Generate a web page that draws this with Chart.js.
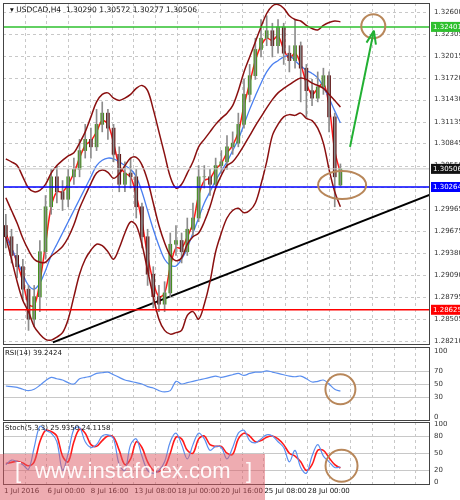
<!DOCTYPE html>
<html>
<head>
<meta charset="utf-8">
<script src="https://cdn.jsdelivr.net/npm/chart.js@4.4.1/dist/chart.umd.min.js"></script>
<style>
  body { margin:0; background:#fff; font-family:"DejaVu Sans", sans-serif; }
  .panel { position:absolute; left:0; width:460px; }
  #wm { position:absolute; left:0; top:454px; width:265px; height:46px; background:rgba(222,90,100,0.5);
        color:rgba(255,255,255,0.95); font:22px "Liberation Sans", sans-serif; line-height:34px; white-space:nowrap; overflow:hidden; }
  #wm span { position:absolute; top:0; }
</style>
</head>
<body>
<div class="panel" style="top:0;height:347px"><canvas id="main"></canvas></div>
<div class="panel" style="top:347px;height:74px"><canvas id="rsi"></canvas></div>
<div class="panel" style="top:421px;height:79px"><canvas id="stoch"></canvas></div>
<div id="wm"><span style="left:15px">[</span><span style="left:35px">www.instaforex.com</span><span style="left:246px">]</span></div>
<script>
// price data (H4 candles, simplified)
var opens = [1.2975,1.2960,1.2935,1.2920,1.2890,1.2850,1.2880,1.2940,1.3000,1.3040,
1.3020,1.3010,1.3040,1.3050,1.3075,1.3090,1.3080,1.3110,1.3125,1.3105,
1.3070,1.3030,1.3045,1.3040,1.3000,1.2960,1.2910,1.2880,1.2870,1.2885,
1.2950,1.2955,1.2940,1.2970,1.2985,1.3040,1.3040,1.3030,1.3055,1.3060,
1.3080,1.3085,1.3110,1.3150,1.3175,1.3210,1.3225,1.3235,1.3215,1.3240,
1.3205,1.3195,1.3215,1.3185,1.3155,1.3145,1.3160,1.3175,1.3120,1.30290];
var closes = [1.2960,1.2935,1.2920,1.2890,1.2850,1.2880,1.2940,1.3000,1.3040,1.3020,
1.3010,1.3040,1.3050,1.3075,1.3090,1.3080,1.3110,1.3125,1.3105,1.3070,
1.3030,1.3045,1.3040,1.3000,1.2960,1.2910,1.2880,1.2870,1.2885,1.2950,
1.2955,1.2940,1.2970,1.2985,1.3040,1.3040,1.3030,1.3055,1.3060,1.3080,
1.3085,1.3110,1.3150,1.3175,1.3210,1.3225,1.3235,1.3215,1.3240,1.3205,
1.3195,1.3215,1.3185,1.3155,1.3145,1.3160,1.3175,1.3120,1.3040,1.30506];
var highs = [1.2990,1.2970,1.2950,1.2930,1.2895,1.2895,1.2955,1.3015,1.3050,1.3055,
1.3035,1.3050,1.3065,1.3090,1.3110,1.3105,1.3130,1.3140,1.3130,1.3110,
1.3080,1.3060,1.3065,1.3050,1.3005,1.2970,1.2920,1.2895,1.2900,1.2965,
1.2975,1.2965,1.2985,1.3005,1.3055,1.3055,1.3050,1.3065,1.3075,1.3095,
1.3100,1.3125,1.3170,1.3190,1.3225,1.3250,1.3255,1.3245,1.3250,1.3245,
1.3215,1.3250,1.3220,1.3190,1.3170,1.3180,1.3185,1.3180,1.3125,1.30572];
var lows = [1.2945,1.2925,1.2905,1.2875,1.2835,1.2840,1.2860,1.2930,1.2990,1.3005,
1.2995,1.3000,1.3030,1.3040,1.3065,1.3065,1.3075,1.3100,1.3090,1.3060,
1.3020,1.3020,1.3025,1.2985,1.2945,1.2895,1.2865,1.2860,1.2860,1.2880,
1.2935,1.2925,1.2935,1.2960,1.2980,1.3025,1.3015,1.3025,1.3045,1.3050,
1.3070,1.3080,1.3105,1.3140,1.3170,1.3200,1.3215,1.3200,1.3205,1.3190,
1.3180,1.3185,1.3140,1.3120,1.3135,1.3140,1.3150,1.3100,1.3000,1.30277];
var bandUpper = [1.3064,1.3060,1.3055,1.3040,1.3025,1.3020,1.3022,1.3030,1.3045,1.3055,
1.3062,1.3068,1.3072,1.3085,1.3100,1.3120,1.3140,1.3150,1.3152,1.3145,
1.3142,1.3145,1.3150,1.3158,1.3162,1.3155,1.3130,1.3100,1.3070,1.3040,
1.3025,1.3030,1.3045,1.3060,1.3080,1.3090,1.3100,1.3110,1.3118,1.3125,
1.3135,1.3155,1.3180,1.3200,1.3220,1.3240,1.3258,1.3268,1.3270,1.3265,
1.3255,1.3250,1.3248,1.3242,1.3238,1.3236,1.3242,1.3246,1.3248,1.3247];
var bandLower = [1.2960,1.2930,1.2900,1.2875,1.2860,1.2840,1.2830,1.2823,1.2822,1.2826,
1.2832,1.2850,1.2880,1.2910,1.2930,1.2942,1.2950,1.2948,1.2940,1.2930,
1.2945,1.2965,1.2980,1.2975,1.2950,1.2915,1.2880,1.2850,1.2835,1.2830,
1.2832,1.2835,1.2855,1.2860,1.2850,1.2870,1.2900,1.2940,1.2965,1.2985,
1.2995,1.2998,1.2992,1.2995,1.3005,1.3030,1.3060,1.3095,1.3110,1.3120,
1.3123,1.3122,1.3125,1.3118,1.3115,1.3105,1.3085,1.3050,1.3020,1.3000];
var bandMid = [1.3012,1.2995,1.2978,1.2958,1.2942,1.2930,1.2926,1.2926,1.2934,1.2940,
1.2947,1.2959,1.2976,1.2998,1.3015,1.3031,1.3045,1.3049,1.3046,1.3038,
1.3044,1.3055,1.3065,1.3066,1.3056,1.3035,1.3005,1.2975,1.2952,1.2935,
1.2928,1.2932,1.2950,1.2960,1.2965,1.2980,1.3000,1.3025,1.3042,1.3055,
1.3060,1.3070,1.3082,1.3095,1.3108,1.3120,1.3132,1.3143,1.3152,1.3158,
1.3163,1.3168,1.3172,1.3170,1.3165,1.3162,1.3158,1.3150,1.3142,1.3133];
var maSlow = [1.2960,1.2945,1.2928,1.2910,1.2895,1.2890,1.2898,1.2915,1.2935,1.2950,
1.2965,1.2980,1.2995,1.3010,1.3025,1.3040,1.3055,1.3062,1.3065,1.3064,
1.3060,1.3055,1.3050,1.3040,1.3020,1.2995,1.2970,1.2948,1.2930,1.2922,
1.2921,1.2930,1.2945,1.2965,1.2985,1.3005,1.3020,1.3035,1.3048,1.3060,
1.3075,1.3090,1.3110,1.3130,1.3148,1.3165,1.3180,1.3190,1.3195,1.3200,
1.3202,1.3195,1.3188,1.3182,1.3178,1.3172,1.3160,1.3145,1.3128,1.3112];
var maFast = [1.2965,1.2945,1.2925,1.2900,1.2870,1.2868,1.2900,1.2950,1.3000,1.3020,
1.3020,1.3030,1.3045,1.3065,1.3082,1.3088,1.3100,1.3115,1.3110,1.3085,
1.3055,1.3045,1.3040,1.3015,1.2980,1.2935,1.2900,1.2880,1.2885,1.2920,
1.2945,1.2945,1.2960,1.2978,1.3015,1.3035,1.3038,1.3050,1.3058,1.3072,
1.3082,1.3100,1.3135,1.3165,1.3195,1.3215,1.3225,1.3222,1.3228,1.3210,
1.3198,1.3205,1.3190,1.3165,1.3150,1.3158,1.3165,1.3135,1.3075,1.3045];
var rsi = [47,46,45,42,40,42,48,55,60,58,
56,52,50,58,60,62,66,67,68,64,
60,56,54,52,50,46,44,40,38,40,
54,50,52,54,56,58,60,62,60,62,
64,66,63,66,68,68,70,68,66,64,
62,61,62,58,53,54,56,50,42,39.24];
var stochK = [30,38,35,30,22,60,97,90,85,70,
20,50,92,95,70,60,65,80,82,75,
30,20,65,75,45,20,15,20,35,70,
85,65,40,65,85,75,55,62,60,40,
60,85,90,72,68,75,82,80,70,60,
35,55,25,15,45,65,45,35,25,25.94];
var stochD = [32,34,36,33,28,35,70,90,88,80,
45,35,70,92,85,65,62,72,80,78,
55,30,40,70,60,35,20,18,25,50,
78,75,55,50,75,80,65,62,62,50,
48,75,85,80,70,72,78,80,75,65,
50,45,35,20,30,55,55,42,30,24.12];
var priceTicks = [1.32600,1.32305,1.32015,1.31720,1.31430,1.31135,1.30845,1.30550,1.30260,1.29965,1.29675,1.29380,1.29090,1.28795,1.28505,1.28210];
var rsiTicks = [100, 70, 50, 30, 0];
var stochTicks = [100, 80, 50, 20, 0];
var timeLabels = ['1 Jul 2016','6 Jul 00:00','8 Jul 16:00','13 Jul 08:00','18 Jul 00:00','20 Jul 16:00','25 Jul 08:00','28 Jul 00:00'];
var levelResist = 1.32401, levelSupport = 1.30264, levelLow = 1.28625, lastPrice = 1.30506;
var trendFrom = [8.3, 1.2819], trendTo = [74.8, 1.3016];

var XMIN = -0.5, XMAX = 74.8, GRIDSTEP = 3.827;
var FONT = '"DejaVu Sans", sans-serif';

function pts(arr) { return arr.map(function (v, i) { return { x: i, y: v }; }); }

function gridPlugin(hLines, dashed, tickVals, digits) {
    return {
        id: 'grid',
        beforeDatasetsDraw: function (chart) {
            var c = chart.ctx, a = chart.chartArea, xs = chart.scales.x, ys = chart.scales.y;
            c.save();
            c.strokeStyle = '#c8c8c8'; c.lineWidth = 1; c.setLineDash([3, 3]);
            for (var k = 1; k < 20; k++) {
                var px = Math.round(xs.getPixelForValue(XMIN + GRIDSTEP * k)) + 0.5;
                if (px >= a.right) break;
                c.beginPath(); c.moveTo(px, a.top); c.lineTo(px, a.bottom); c.stroke();
            }
            if (!dashed) c.setLineDash([]);
            hLines.forEach(function (v) {
                var py = Math.round(ys.getPixelForValue(v)) + 0.5;
                c.beginPath(); c.moveTo(a.left, py); c.lineTo(a.right, py); c.stroke();
            });
            c.restore();
        },
        afterDraw: function (chart) {
            var c = chart.ctx, a = chart.chartArea, ys = chart.scales.y;
            c.save(); c.strokeStyle = '#444'; c.lineWidth = 1;
            c.strokeRect(a.left + 0.5, a.top + 0.5, a.right - a.left - 1, a.bottom - a.top - 1);
            c.fillStyle = '#333'; c.font = '7px ' + FONT; c.textBaseline = 'middle';
            tickVals.forEach(function (v) {
                c.fillText(v.toFixed(digits), a.right + 4, ys.getPixelForValue(v));
            });
            c.restore();
        }
    };
}

function baseX() {
    return { type: 'linear', min: XMIN, max: XMAX, display: false, offset: false };
}
function baseY(min, max) {
    return { position: 'right', min: min, max: max, display: false };
}
function line(data, color, w) {
    return { type: 'line', data: pts(data), borderColor: color, borderWidth: w, pointRadius: 0, tension: 0.35 };
}
var PAD = { left: 3, right: 30 };

// main price chart
var candleBody = closes.map(function (c, i) { return { x: i, y: [opens[i], c] }; });
var candleWick = closes.map(function (c, i) { return { x: i, y: [lows[i], highs[i]] }; });
var bodyColors = closes.map(function (c, i) { return c >= opens[i] ? '#3f8f16' : '#5c1212'; });

var mainPlugin = {
    id: 'mainDeco',
    afterDatasetsDraw: function (chart) {
        var c = chart.ctx, a = chart.chartArea, xs = chart.scales.x, ys = chart.scales.y;
        c.save();
        function hline(v, col, w) {
            var py = ys.getPixelForValue(v);
            c.strokeStyle = col; c.lineWidth = w;
            c.beginPath(); c.moveTo(a.left, py); c.lineTo(a.right, py); c.stroke();
        }
        hline(lastPrice, '#c8c8c8', 1);
        hline(levelResist, '#2ec02e', 1.5);
        hline(levelSupport, '#0000ff', 1.5);
        hline(levelLow, '#ff0000', 1.5);
        function X(v) { return xs.getPixelForValue(v); }
        function Y(v) { return ys.getPixelForValue(v); }
        c.strokeStyle = '#b8875a'; c.lineWidth = 2;
        c.beginPath(); c.ellipse(X(64.8), Y(1.32410), 12, 12, 0, 0, Math.PI * 2); c.stroke();
        c.beginPath(); c.ellipse(X(59.3), Y(1.30290), 24, 14, 0, 0, Math.PI * 2); c.stroke();
        var x1 = X(60.7), y1 = Y(1.30800), x2 = X(64.9), y2 = Y(1.32350);
        c.strokeStyle = '#22b033'; c.lineWidth = 2;
        c.beginPath(); c.moveTo(x1, y1); c.lineTo(x2, y2); c.stroke();
        var ang = Math.atan2(y2 - y1, x2 - x1);
        [0.35, -0.35].forEach(function (d) {
            c.beginPath(); c.moveTo(x2, y2);
            c.lineTo(x2 - 14 * Math.cos(ang + d), y2 - 14 * Math.sin(ang + d)); c.stroke();
        });
        c.restore();
    },
    afterDraw: function (chart) {
        var c = chart.ctx, a = chart.chartArea, ys = chart.scales.y;
        c.save();
        c.font = '7px ' + FONT; c.textBaseline = 'middle';
        [[lastPrice, '#111'], [levelResist, '#2ec02e'], [levelSupport, '#0000ff'], [levelLow, '#ff0000']]
            .forEach(function (b) {
                var py = ys.getPixelForValue(b[0]);
                c.fillStyle = b[1]; c.fillRect(a.right + 1, py - 5, 29, 10);
                c.fillStyle = '#fff'; c.fillText(b[0].toFixed(5), a.right + 3, py);
            });
        c.fillStyle = '#111'; c.font = '7.5px ' + FONT; c.textBaseline = 'top';
        c.fillText('\u25BE USDCAD,H4  1.30290 1.30572 1.30277 1.30506', a.left + 7, a.top + 3);
        c.restore();
    }
};

new Chart(document.getElementById('main'), {
    data: {
        datasets: [
            line(bandUpper, '#8a1010', 1.5),
            line(bandLower, '#8a1010', 1.5),
            line(bandMid, '#8a1010', 1.5),
            { type: 'bar', data: candleWick, backgroundColor: '#8c8c8c', barThickness: 1, grouped: false },
            { type: 'bar', data: candleBody, backgroundColor: bodyColors, barThickness: 3, grouped: false },
            line(maSlow, '#4a7ff0', 1.3),
            line(maFast, '#ff1a1a', 1.5),
            { type: 'line', data: [{ x: trendFrom[0], y: trendFrom[1] }, { x: trendTo[0], y: trendTo[1] }],
              borderColor: '#000', borderWidth: 2, pointRadius: 0 }
        ]
    },
    options: {
        responsive: true, maintainAspectRatio: false, animation: false,
        layout: { padding: { left: PAD.left, top: 3, right: PAD.right, bottom: 2 } },
        plugins: { legend: { display: false }, tooltip: { enabled: false } },
        scales: { x: baseX(), y: baseY(1.28155, 1.32720) }
    },
    plugins: [gridPlugin(priceTicks, true, priceTicks, 5), mainPlugin]
});

function labelPlugin(text) {
    return {
        id: 'lbl',
        afterDraw: function (chart) {
            var c = chart.ctx, a = chart.chartArea;
            c.save(); c.fillStyle = '#111'; c.font = '7px ' + FONT; c.textBaseline = 'top';
            c.fillText(text, a.left + 2, a.top + 3); c.restore();
        }
    };
}
function circlePlugin(xv, yv, r) {
    return {
        id: 'circ',
        afterDatasetsDraw: function (chart) {
            var c = chart.ctx;
            c.save(); c.strokeStyle = '#b8875a'; c.lineWidth = 2;
            c.beginPath(); c.arc(chart.scales.x.getPixelForValue(xv), chart.scales.y.getPixelForValue(yv), r, 0, Math.PI * 2);
            c.stroke(); c.restore();
        }
    };
}

// RSI panel
new Chart(document.getElementById('rsi'), {
    data: { datasets: [line(rsi, '#5b8fef', 1.2)] },
    options: {
        responsive: true, maintainAspectRatio: false, animation: false,
        layout: { padding: { left: PAD.left, top: 0, right: PAD.right, bottom: 0 } },
        plugins: { legend: { display: false }, tooltip: { enabled: false } },
        scales: { x: baseX(), y: baseY(-6, 106) }
    },
    plugins: [gridPlugin([70, 50, 30], false, rsiTicks, 0), labelPlugin('RSI(14) 39.2424'), circlePlugin(59.0, 42, 15)]
});

// Stochastic panel with time axis
var timePlugin = {
    id: 'time',
    afterDraw: function (chart) {
        var c = chart.ctx, a = chart.chartArea, xs = chart.scales.x;
        c.save(); c.fillStyle = '#111'; c.font = '7px ' + FONT; c.textBaseline = 'top';
        timeLabels.forEach(function (t, k) {
            c.fillText(t, xs.getPixelForValue(XMIN + GRIDSTEP * 2 * k) + 1, a.bottom + 3);
        });
        c.restore();
    }
};
new Chart(document.getElementById('stoch'), {
    data: { datasets: [line(stochK, '#5b8fef', 1.2), line(stochD, '#ff1a1a', 1.6)] },
    options: {
        responsive: true, maintainAspectRatio: false, animation: false,
        layout: { padding: { left: PAD.left, top: 1, right: PAD.right, bottom: 15 } },
        plugins: { legend: { display: false }, tooltip: { enabled: false } },
        scales: { x: baseX(), y: baseY(-5.5, 104.5) }
    },
    plugins: [gridPlugin([80, 50, 20], false, stochTicks, 0), labelPlugin('Stoch(5,3,3) 25.9350 24.1158'), circlePlugin(59.2, 28, 16), timePlugin]
});
</script>
</body>
</html>
